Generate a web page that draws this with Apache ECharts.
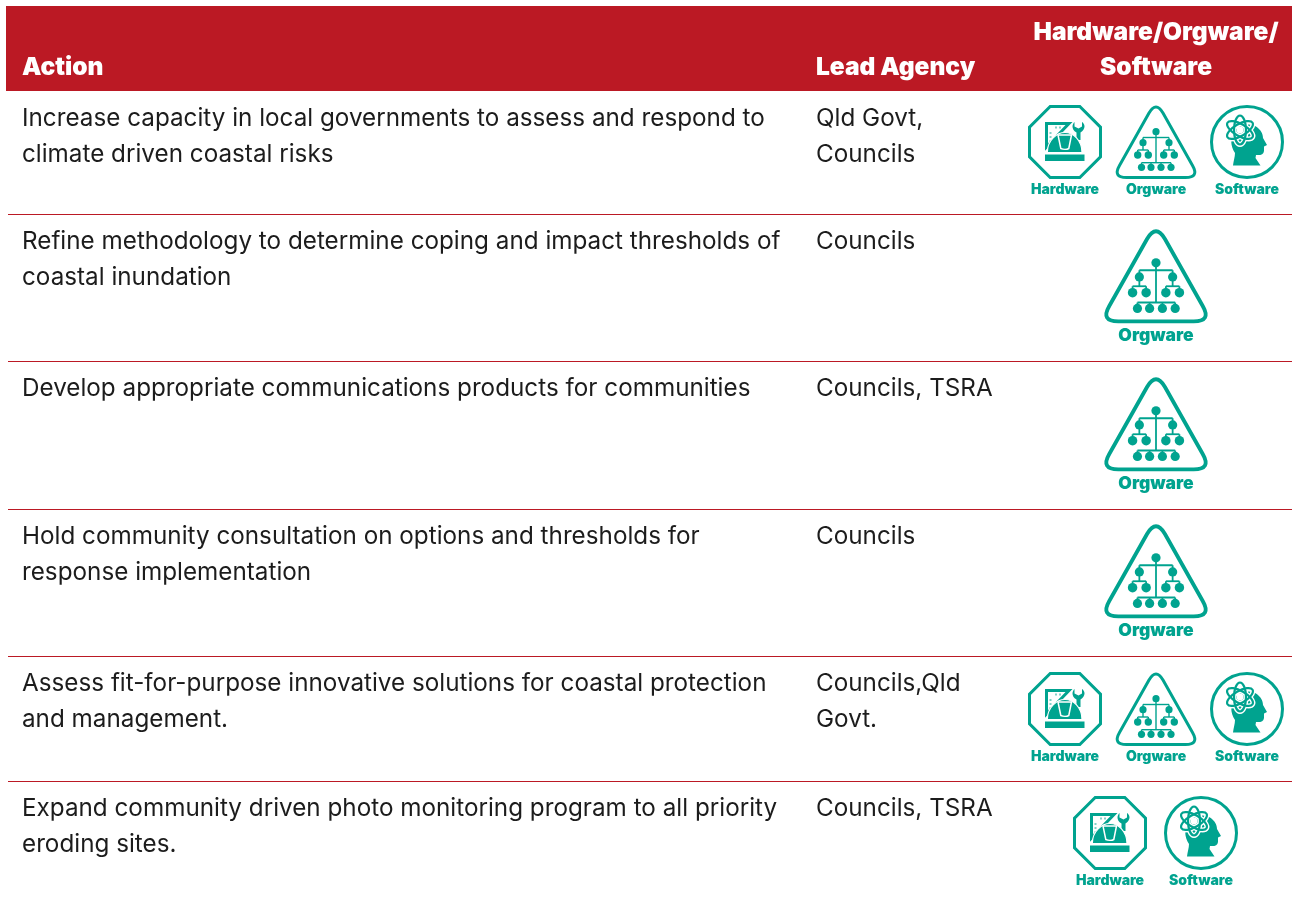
<!DOCTYPE html>
<html>
<head>
<meta charset="utf-8">
<title>Actions</title>
<script src="https://cdn.jsdelivr.net/npm/echarts@6/dist/echarts.min.js"></script>
<style>
html, body { margin: 0; padding: 0; background: #fff; }
#echart { width: 1292px; height: 901px; }
</style>
</head>
<body>
<div id="echart"></div>
<script>
var headers = ['Action', 'Lead Agency', 'Hardware/Orgware/\nSoftware'];

var actions = [
    'Increase capacity in local governments to assess and respond to\nclimate driven coastal risks',
    'Refine methodology to determine coping and impact thresholds of\ncoastal inundation',
    'Develop appropriate communications products for communities',
    'Hold community consultation on options and thresholds for\nresponse implementation',
    'Assess fit-for-purpose innovative solutions for coastal protection\nand management.',
    'Expand community driven photo monitoring program to all priority\neroding sites.'
];

var agencies = [
    'Qld Govt,\nCouncils',
    'Councils',
    'Councils, TSRA',
    'Councils',
    'Councils,Qld\nGovt.',
    'Councils, TSRA'
];

var frameworks = [
    ['Hardware', 'Orgware', 'Software'],
    ['Orgware'],
    ['Orgware'],
    ['Orgware'],
    ['Hardware', 'Orgware', 'Software'],
    ['Hardware', 'Software']
];

// page layout, in the pixels of the hidden axes
var rowTops = [91, 214, 361, 509, 656, 781];
var iconCenters = [142, 276, 424, 571, 709, 833];
var iconSlots = { 1: [1156], 2: [1110, 1201], 3: [1065, 1156, 1247] };

var RED = '#bb1924';
var TEAL = '#00a38f';
var INK = '#1c1c1c';
var FONT = 'Inter, sans-serif';

function text(x, y, str, size, weight, fill, align, lineHeight) {
    return {
        type: 'text',
        style: {
            x: x, y: y, text: str, fontFamily: FONT, fontSize: size, fontWeight: weight,
            fill: fill, textAlign: align || 'left', textVerticalAlign: 'top', lineHeight: lineHeight
        }
    };
}

function line(x1, y1, x2, y2, w) {
    return { type: 'line', shape: { x1: x1, y1: y1, x2: x2, y2: y2 }, style: { stroke: TEAL, lineWidth: w || 1.4, fill: null } };
}

function dot(x, y, r) {
    return { type: 'circle', shape: { cx: x, cy: y, r: r }, style: { fill: TEAL } };
}

function hardwareIcon() {
    return [
        { type: 'path', shape: { pathData: 'M-14.8-35.5H14.8L35.5-14.8V14.8L14.8 35.5H-14.8L-35.5 14.8V-14.8Z' },
          style: { fill: '#fff', stroke: TEAL, lineWidth: 3 } },
        // set square
        { type: 'path', shape: { pathData: 'M-18.5-18.5H4L-18.5 5Z' }, style: { fill: 'none', stroke: TEAL, lineWidth: 3 } },
        { type: 'path', shape: { pathData: 'M-15.5-9H-13.5M-15.5-5H-13.5M-15.5-1H-13.5M-9-15.5V-13.5M-5-15.5V-13.5' }, style: { fill: 'none', stroke: TEAL, lineWidth: 1 } },
        // wrench
        { type: 'path', shape: { pathData: 'M11.5-2V-9.5C8.5-11 7.5-13.5 7.5-15.5C7.5-17.5 8.5-19 9.5-20V-15.5L13.5-13.5 17-15.5V-20C18.5-19 19.5-17.5 19.5-15.5C19.5-13.5 18-11 15.5-9.5V-2Z' }, style: { fill: TEAL } },
        // hard hat
        { type: 'path', shape: { pathData: 'M-17.7 10.5C-17.7-2-8-9.5 0-9.5C8-9.5 17-2 17 10.5Z' }, style: { fill: TEAL, stroke: '#fff', lineWidth: 1.2 } },
        { type: 'path', shape: { pathData: 'M-7-7H6.5L3.8 6.5C2 7.5-2 7.5-4.2 6.5Z' }, style: { fill: TEAL, stroke: '#fff', lineWidth: 1.5 } },
        { type: 'rect', shape: { x: -20, y: 12.5, width: 39.5, height: 6.5 }, style: { fill: TEAL } }
    ];
}

function orgwareIcon() {
    return [
        { type: 'path', shape: { pathData: 'M-7-28.9Q0-41 7-28.9L36.5 23.4Q43.5 35.5 29.5 35.5L-29.5 35.5Q-43.5 35.5-36.5 23.4Z' },
          style: { fill: '#fff', stroke: TEAL, lineWidth: 3 } },
        line(0, -10, 0, 21),
        line(-13, -4.5, 13, -4.5),
        line(-13, -4.5, -13, 8),
        line(13, -4.5, 13, 8),
        line(-18.3, 8, -7.7, 8),
        line(7.7, 8, 18.3, 8),
        line(-18.3, 8, -18.3, 13),
        line(-7.7, 8, -7.7, 13),
        line(7.7, 8, 7.7, 13),
        line(18.3, 8, 18.3, 13),
        line(-14.5, 20.7, 15, 20.7),
        line(-14.5, 20.7, -14.5, 25),
        line(-5, 20.7, -5, 25),
        line(5, 20.7, 5, 25),
        line(15, 20.7, 15, 25),
        dot(0, -10.3, 3.6),
        dot(-13, 0.7, 3.6),
        dot(13, 0.7, 3.6),
        dot(-18.3, 13, 3.7),
        dot(-7.7, 13, 3.7),
        dot(7.7, 13, 3.7),
        dot(18.3, 13, 3.7),
        dot(-14.5, 25.3, 3.6),
        dot(-5, 25.3, 3.6),
        dot(5, 25.3, 3.6),
        dot(15, 25.3, 3.6)
    ];
}

function softwareIcon() {
    var out = [
        { type: 'circle', shape: { cx: 0, cy: 0, r: 35.5 }, style: { fill: '#fff', stroke: TEAL, lineWidth: 3 } },
        { type: 'path', shape: { pathData: 'M-14 23.5C-13.5 19-12 15-12 11C-17 4-17-6-12-12C-6-18 4-19 9-15.5C14-12 16-8 16-4L20 3 17 4.5 17 9C16.5 12.5 13.5 13.5 9 13L8.5 16 13.5 23.5Z' },
          style: { fill: TEAL } }
    ];
    [30, 90, 150].forEach(function (deg) {
        out.push({ type: 'ellipse', x: -7, y: -12, rotation: deg * Math.PI / 180, shape: { cx: 0, cy: 0, rx: 14.5, ry: 6 },
                   style: { fill: 'none', stroke: '#fff', lineWidth: 5 } });
    });
    [30, 90, 150].forEach(function (deg) {
        out.push({ type: 'ellipse', x: -7, y: -12, rotation: deg * Math.PI / 180, shape: { cx: 0, cy: 0, rx: 14.5, ry: 6 },
                   style: { fill: 'none', stroke: TEAL, lineWidth: 2.2 } });
    });
    out.push({ type: 'circle', shape: { cx: -7, cy: -12, r: 3.4 }, style: { fill: '#fff' } });
    return out;
}

var iconBuilders = { Hardware: hardwareIcon, Orgware: orgwareIcon, Software: softwareIcon };

function renderHeader(params, api) {
    var tl = api.coord([6, 6]);
    var br = api.coord([1292, 91]);
    return {
        type: 'group',
        children: [
            { type: 'rect', shape: { x: tl[0], y: tl[1], width: br[0] - tl[0], height: br[1] - tl[1] }, style: { fill: RED } },
            text(22, 55, headers[0], 24.5, 900, '#fff'),
            text(816, 55, headers[1], 24.5, 900, '#fff'),
            text(1156, 15, headers[2], 24.5, 900, '#fff', 'center', 35)
        ]
    };
}

function renderRow(params, api) {
    var i = api.value(0);
    var top = api.coord([0, rowTops[i]])[1];
    var children = [];
    if (i > 0) {
        children.push({ type: 'line', shape: { x1: 8, y1: top + 0.5, x2: 1292, y2: top + 0.5 }, style: { stroke: RED, lineWidth: 1 } });
    }
    children.push(text(22, top + 10, actions[i], 24.25, 400, INK, 'left', 36));
    children.push(text(816, top + 10, agencies[i], 24.25, 400, INK, 'left', 36));
    var names = frameworks[i];
    var slots = iconSlots[names.length];
    var big = names.length === 1;
    var scale = big ? 1.28 : 1;
    names.forEach(function (name, k) {
        var cx = api.coord([slots[k], 0])[0];
        var cy = api.coord([0, iconCenters[i]])[1];
        children.push({ type: 'group', x: cx, y: cy, scaleX: scale, scaleY: scale, children: iconBuilders[name]() });
        children.push(text(cx, cy + (big ? 51 : 40.5), name, big ? 17.5 : 14, 900, TEAL, 'center'));
    });
    return { type: 'group', children: children };
}

var myChart = echarts.init(document.getElementById('echart'));

var option = {
    animation: false,
    grid: { left: 0, right: 0, top: 0, bottom: 0 },
    xAxis: { type: 'value', min: 0, max: 1292, show: false },
    yAxis: { type: 'value', min: 0, max: 901, inverse: true, show: false },
    series: [
        { type: 'custom', clip: false, renderItem: renderHeader, data: [[0]] },
        { type: 'custom', clip: false, renderItem: renderRow, data: actions.map(function (a, i) { return [i]; }) }
    ]
};

myChart.setOption(option);
</script>
</body>
</html>
